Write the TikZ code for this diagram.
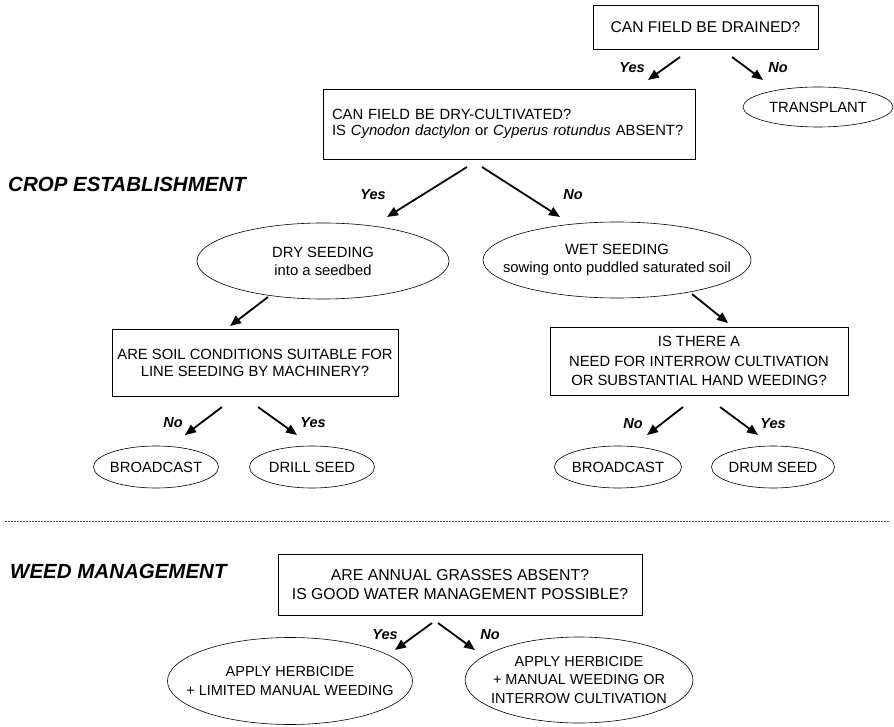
\documentclass[tikz,border=0pt]{standalone}
\usepackage{fontspec}
\setmainfont{Liberation Sans}
\usetikzlibrary{arrows.meta,shapes.geometric}
\newcommand{\boxfont}{\fontsize{14.8}{18}\selectfont}
\newcommand{\headfont}{\fontsize{20.5}{24}\selectfont\bfseries\itshape}
\newcommand{\ansfont}{\fontsize{14.5}{16}\selectfont\bfseries\itshape}

\begin{document}
\begin{tikzpicture}[x=1pt,y=-1pt,
  qbox/.style={draw,line width=0.9pt,inner sep=0pt,align=center,font=\boxfont},
  oval/.style={draw,ellipse,line width=0.6pt,inner sep=0pt},
  ovaltext/.style={font=\boxfont,align=center,inner sep=0pt},
  arr/.style={line width=1.8pt,-{Triangle[length=11pt,width=9pt]}},
  ans/.style={font=\ansfont,inner sep=0pt},
  head/.style={font=\headfont,anchor=west,inner sep=0pt}]
\useasboundingbox (0,0) rectangle (894,727);
% crop establishment
\node[head] (crophead) at (8,184) {CROP ESTABLISHMENT};
\node[qbox,minimum width=225pt,minimum height=44pt,font=\fontsize{15.6}{18}\selectfont] (drained) at (705.5,27) {CAN FIELD BE DRAINED?};
\node[oval,minimum width=150pt,minimum height=40pt,label={[ovaltext]center:TRANSPLANT}] (transplant) at (818,107) {};
\node[qbox,align=left,text width=354pt,inner xsep=9pt,minimum height=70pt,font=\fontsize{14.8}{15.5}\selectfont] (drycult) at (509,124) {CAN FIELD BE DRY-CULTIVATED?\\IS \textit{Cynodon dactylon} or \textit{Cyperus rotundus} ABSENT?};
\node[oval,minimum width=252pt,minimum height=76pt,label={[ovaltext]center:DRY SEEDING\\into a seedbed}] (dry) at (323,261) {};
\node[oval,minimum width=268pt,minimum height=76pt,label={[ovaltext]center:WET SEEDING\\sowing onto puddled saturated soil}] (wet) at (617,260) {};
\node[qbox,minimum width=286pt,minimum height=67pt,font=\fontsize{14.8}{17}\selectfont] (soil) at (255,362.5) {ARE SOIL CONDITIONS SUITABLE FOR\\LINE SEEDING BY MACHINERY?};
\node[qbox,minimum width=298pt,minimum height=68pt,font=\fontsize{14.8}{19.5}\selectfont] (interrow) at (699,361) {IS THERE A\\NEED FOR INTERROW CULTIVATION\\OR SUBSTANTIAL HAND WEEDING?};
\node[oval,minimum width=125pt,minimum height=42pt,label={[ovaltext]center:BROADCAST}] (broaddry) at (156,467) {};
\node[oval,minimum width=125pt,minimum height=42pt,label={[ovaltext]center:DRILL SEED}] (drill) at (312,467) {};
\node[oval,minimum width=127pt,minimum height=42pt,label={[ovaltext]center:BROADCAST}] (broadwet) at (618,467) {};
\node[oval,minimum width=123pt,minimum height=42pt,label={[ovaltext]center:DRUM SEED}] (drum) at (773,467) {};
% separator
\coordinate (sepl) at (5,521);
\coordinate (sepr) at (890,521);
\draw[gray!70!black,line width=0.8pt,dash pattern=on 2pt off 1pt] (sepl) -- (sepr);
% weed management
\node[head] (weedhead) at (10,571) {WEED MANAGEMENT};
\node[qbox,minimum width=364pt,minimum height=61pt,font=\fontsize{15.8}{18.5}\selectfont] (grasses) at (460,584.5) {ARE ANNUAL GRASSES ABSENT?\\IS GOOD WATER MANAGEMENT POSSIBLE?};
\node[oval,minimum width=245pt,minimum height=87pt,label={[ovaltext,font=\fontsize{14.5}{19}\selectfont]center:APPLY HERBICIDE\\+ LIMITED MANUAL WEEDING}] (limited) at (290,681) {};
\node[oval,minimum width=228pt,minimum height=86pt,label={[ovaltext,font=\fontsize{14.5}{18.5}\selectfont]center:APPLY HERBICIDE\\+ MANUAL WEEDING OR\\INTERROW CULTIVATION}] (manual) at (579,680) {};
% arrow ends
\coordinate (a1) at (680,57);  \coordinate (b1) at (648,80);
\coordinate (a2) at (732,57);  \coordinate (b2) at (763,80);
\coordinate (a3) at (467,167); \coordinate (b3) at (387,217);
\coordinate (a4) at (482,167); \coordinate (b4) at (560,217);
\coordinate (a5) at (268,297); \coordinate (b5) at (230,326);
\coordinate (a6) at (692,294); \coordinate (b6) at (728,323);
\coordinate (a7) at (222,407); \coordinate (b7) at (185,435);
\coordinate (a8) at (258,407); \coordinate (b8) at (297,435);
\coordinate (a9) at (683,407); \coordinate (b9) at (647,435);
\coordinate (a10) at (720,407); \coordinate (b10) at (758,435);
\coordinate (a11) at (432,623); \coordinate (b11) at (395,650);
\coordinate (a12) at (438,623); \coordinate (b12) at (475,650);
\foreach \i in {1,...,12}
  \draw[arr] (a\i) -- (b\i);
% answers
\node[ans] (yes1) at (632,68) {Yes};
\node[ans] (no1) at (778,68) {No};
\node[ans] (yes2) at (373,195) {Yes};
\node[ans] (no2) at (573,195) {No};
\node[ans] (no3) at (173,423) {No};
\node[ans] (yes3) at (313,423) {Yes};
\node[ans] (no4) at (633,424) {No};
\node[ans] (yes4) at (773,424) {Yes};
\node[ans] (yes5) at (385,635) {Yes};
\node[ans] (no5) at (490,635) {No};
\end{tikzpicture}
\end{document}
